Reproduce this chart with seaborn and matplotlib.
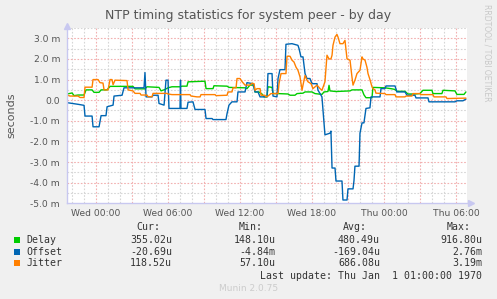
import numpy as np
import pandas as pd
import matplotlib
matplotlib.use("Agg")
import matplotlib.pyplot as plt
from matplotlib.patches import Rectangle
import seaborn as sns

# hours relative to Wed 00:00, values in milliseconds
delay_t = [-2.42, -2.0, -1.83, -1.5, -1.0, -0.83, -0.33, -0.17, 0.25, 0.42, 0.92, 1.17, 3.08, 3.25,
           4.08, 4.25, 5.25, 5.42, 5.75, 6.0, 6.33, 7.0, 7.17, 7.58, 7.67, 9.08, 9.17, 9.75, 9.83,
           10.92, 11.08, 12.42, 12.58, 12.83, 13.17, 13.25, 13.58, 13.83, 14.0, 14.25, 14.33, 14.67,
           14.75, 15.17, 16.0, 16.17, 16.58, 16.75, 17.25, 17.42, 18.0, 18.25, 18.83, 19.0, 19.33,
           19.42, 19.5, 20.0, 21.17, 21.33, 22.17, 22.33, 22.5, 23.0, 23.08, 24.08, 24.67, 24.92,
           25.08, 25.75, 26.0, 26.58, 27.0, 27.25, 28.0, 28.08, 28.83, 28.92, 29.92, 30.08, 30.67, 30.83]
delay_v = [0.3, 0.35, 0.22, 0.25, 0.25, 0.5, 0.5, 0.38, 0.38, 0.5, 0.5, 0.67, 0.67, 0.55,
           0.55, 0.65, 0.62, 0.45, 0.52, 0.6, 0.65, 0.65, 0.68, 0.68, 0.89, 0.92, 0.56, 0.56, 0.7,
           0.68, 0.62, 0.6, 0.56, 0.73, 0.73, 0.4, 0.4, 0.3, 0.16, 0.16, 0.65, 0.62,
           0.32, 0.32, 0.3, 0.24, 0.24, 0.32, 0.34, 0.4, 0.4, 0.32, 0.28, 0.4, 0.42,
           0.72, 0.45, 0.42, 0.45, 0.5, 0.5, 0.26, 0.12, 0.12, 0.62, 0.6, 0.55, 0.52,
           0.43, 0.43, 0.3, 0.3, 0.32, 0.48, 0.48, 0.32, 0.32, 0.48, 0.45, 0.28, 0.28, 0.4]

offset_t = [-2.42, -1.5, -1.0, -0.92, -0.33, -0.25, 0.25, 0.42, 0.83, 0.92, 1.42, 1.5, 2.17, 2.33,
            4.0, 4.08, 4.17, 4.67, 4.75, 5.17, 5.25, 5.67, 5.83, 6.0, 6.08, 7.0, 7.04, 7.08, 7.58,
            7.67, 8.08, 8.25, 9.08, 9.17, 9.67, 9.75, 10.83, 10.92, 11.08, 11.33, 11.75, 11.83,
            12.42, 12.58, 13.08, 13.25, 13.5, 13.67, 14.25, 14.33, 14.67, 14.75, 15.08, 15.17,
            15.33, 15.75, 15.83, 16.33, 16.83, 16.92, 17.08, 17.25, 17.42, 17.58, 17.83, 18.0,
            18.42, 18.5, 18.67, 18.83, 19.08, 19.5, 19.58, 19.67, 19.92, 20.0, 20.5, 20.58, 20.92,
            21.0, 21.42, 21.5, 21.58, 21.92, 22.0, 22.17, 22.33, 22.5, 22.83, 22.92, 23.67, 23.75,
            24.08, 24.17, 24.92, 25.08, 25.75, 25.92, 26.58, 26.67, 27.67, 27.75, 29.92, 30.08,
            30.58, 30.83]
offset_v = [-0.12, -0.2, -0.25, -0.77, -0.77, -1.29, -1.29, -0.75, -0.75, -0.32, -0.24, 0.2, 0.24, 0.6,
            0.6, 1.34, 0.16, 0.16, 0.24, 0.24, -0.16, -0.24, 0.97, 0.97, -0.4, -0.4, 0.97, -0.4, -0.4,
            -0.1, -0.08, -0.45, -0.45, -0.89, -0.89, -0.94, -0.94, -0.65, -0.24, -0.08, -0.08, 0.4,
            0.4, 0.85, 0.8, 0.4, 0.4, 0.16, 0.16, 1.29, 1.29, 0.2, 0.16, 1.05,
            1.48, 1.48, 2.71, 2.74, 2.66, 2.5, 2.1, 2.1, 1.29, 1.05, 1.05, 0.8,
            0.8, 0.48, 0.32, 0.16, -1.68, -1.6, -1.5, -3.29, -3.29, -3.92, -3.92, -4.84, -4.84,
            -4.3, -4.3, -3.9, -3.2, -3.2, -1.6, -1.1, -1.1, -0.4, -0.37, 0.16, 0.16, 0.56,
            0.56, 0.69, 0.69, 0.4, 0.4, 0.24, 0.24, 0.11, 0.11, -0.08, -0.08, -0.03,
            -0.03, 0.05]

jitter_t = [-2.42, -2.17, -1.5, -1.33, -1.0, -0.92, -0.33, -0.25, 0.17, 0.33, 0.58, 0.67, 1.0, 1.17,
            1.33, 1.42, 1.58, 2.58, 2.67, 3.08, 3.25, 3.67, 3.75, 4.25, 4.33, 4.67, 4.75, 5.92, 6.0,
            6.33, 7.83, 7.92, 8.42, 8.67, 8.75, 9.92, 10.0, 10.92, 11.0, 11.33, 11.42, 11.67, 11.75,
            12.0, 12.17, 12.42, 12.83, 13.0, 13.17, 13.25, 13.42, 13.67, 13.75, 14.08, 14.17, 14.33,
            14.58, 15.17, 15.25, 15.42, 15.83, 15.92, 16.17, 16.33, 16.5, 16.67, 16.83, 17.0, 17.17,
            17.25, 17.42, 17.58, 17.67, 17.92, 18.08, 18.42, 18.67, 18.83, 19.08, 19.25, 19.42, 19.58,
            19.67, 19.75, 19.92, 20.08, 20.17, 20.33, 20.58, 20.75, 20.92, 21.17, 21.33, 21.42, 21.58,
            21.75, 22.0, 22.17, 22.25, 22.42, 22.58, 22.67, 22.83, 23.0, 23.08, 23.25, 23.33, 24.08,
            24.17, 24.92, 25.0, 25.75, 25.83, 26.33, 26.42, 27.0, 27.08, 28.08, 28.17, 29.17, 29.25,
            30.83]
jitter_v = [0.25, 0.2, 0.2, 0.13, 0.13, 0.63, 0.63, 1.0, 1.0, 0.85, 0.83, 0.5, 0.5, 1.0,
            1.0, 0.75, 0.97, 0.95, 0.5, 0.45, 0.33, 0.33, 0.25, 0.25, 0.17, 0.17, 0.33, 0.33, 0.3,
            0.27, 0.27, 0.2, 0.16, 0.16, 0.27, 0.27, 0.22, 0.24, 0.4, 0.4, 0.6, 0.6, 1.05,
            1.05, 0.9, 0.73, 0.73, 0.82, 0.8, 0.48, 0.56, 0.56, 0.24, 0.24, 0.16, 0.2,
            0.32, 0.32, 0.8, 1.29, 1.29, 2.13, 2.13, 1.94, 1.85, 1.6, 1.45, 1.13, 0.48,
            0.73, 1.2, 0.97, 0.89, 0.8, 0.56, 0.73, 0.56, 0.48, 0.89, 2.18, 2.0, 2.0,
            2.18, 2.66, 3.06, 3.19, 3.06, 2.74, 2.74, 2.9, 2.0, 1.94, 1.13, 0.73, 0.97,
            1.29, 1.45, 2.1, 2.0, 1.94, 1.6, 1.29, 1.0, 0.65, 0.56, 0.5, 0.34, 0.32,
            0.27, 0.27, 0.16, 0.16, 0.2, 0.2, 0.32, 0.32, 0.27, 0.27, 0.16, 0.16, 0.08,
            0.1]

series_names = ["Delay", "Offset", "Jitter"]
series_colors = ["#00CC00", "#0066B3", "#FF8000"]
x_ticks = [0, 6, 12, 18, 24, 30]
x_labels = ["Wed 00:00", "Wed 06:00", "Wed 12:00", "Wed 18:00", "Thu 00:00", "Thu 06:00"]
y_ticks = [-5, -4, -3, -2, -1, 0, 1, 2, 3]
y_labels = ["-5.0 m", "-4.0 m", "-3.0 m", "-2.0 m", "-1.0 m", "0.0", "1.0 m", "2.0 m", "3.0 m"]
stat_cur = ["355.02u", "-20.69u", "118.52u"]
stat_min = ["148.10u", "-4.84m", "57.10u"]
stat_avg = ["480.49u", "-169.04u", "686.08u"]
stat_max = ["916.80u", "2.76m", "3.19m"]

df = pd.concat([
    pd.DataFrame({"hour": delay_t, "value": delay_v, "series": "Delay"}),
    pd.DataFrame({"hour": offset_t, "value": offset_v, "series": "Offset"}),
    pd.DataFrame({"hour": jitter_t, "value": jitter_v, "series": "Jitter"}),
], ignore_index=True)

sns.set_theme(style="white")
plt.rcParams["font.family"] = ["DejaVu Sans"]

W, H = 497, 299
fig = plt.figure(figsize=(W / 100, H / 100), dpi=100, facecolor="#f0f0f0")
ax = fig.add_axes([67 / W, 1 - 203.3 / H, 400 / W, 175.3 / H])
ax.set_facecolor("white")

sns.lineplot(data=df, x="hour", y="value", hue="series", hue_order=series_names,
             palette=series_colors, estimator=None, sort=False, legend=False,
             linewidth=1.0, ax=ax)

ax.set_xlim(-2.42, 30.92)
ax.set_ylim(-5, 3.5)
ax.set_xticks(x_ticks)
ax.set_xticklabels(x_labels)
ax.set_xticks(np.arange(-2, 31, 3), minor=True)
ax.set_yticks(y_ticks)
ax.set_yticklabels(y_labels)
ax.set_xlabel("")
ax.set_ylabel("seconds", fontsize=8, color="#555555", labelpad=10)

# grid: grey every hour / 0.5m, red every 3h / 1m
for h in np.arange(-2, 31, 1):
    c = "#f2b0b0" if h % 3 == 0 else "#d6d6d6"
    ax.axvline(h, color=c, lw=0.8, ls=(0, (1.5, 1.5)), zorder=0)
for v in np.arange(-4.5, 3.6, 0.5):
    c = "#f2b0b0" if v == int(v) else "#d6d6d6"
    ax.axhline(v, color=c, lw=0.8, ls=(0, (1.5, 1.5)), zorder=0)

ax.tick_params(axis="both", which="both", length=2, width=0.8, color="#f08080",
               labelsize=6.6, labelcolor="#555555", pad=3)
ax.tick_params(axis="x", which="major", length=0, pad=4)
for s in ["top", "right"]:
    ax.spines[s].set_visible(False)
for s in ["left", "bottom"]:
    ax.spines[s].set_color("#c8c8f0")
    ax.spines[s].set_linewidth(1.0)
ax.plot([0], [1.01], marker="^", ms=4, color="#c8c8f0", transform=ax.transAxes, clip_on=False)
ax.plot([1.01], [0], marker=">", ms=4, color="#c8c8f0", transform=ax.transAxes, clip_on=False)

def fx(x):
    return x / W

def fy(y):
    return 1 - y / H

fig.text(fx(248.5), fy(15), "NTP timing statistics for system peer - by day",
         ha="center", va="center", fontsize=9.0, color="#555555")
fig.text(fx(487), fy(53), "RRDTOOL / TOBI OETIKER", rotation=270, ha="center", va="center",
         fontsize=5.5, color="#c8c8c8")

mono = dict(family="DejaVu Sans Mono", fontsize=7.1, color="#333333", va="center")
fig.text(fx(136), fy(227.3), "Cur:", ha="left", **mono)
fig.text(fx(239), fy(227.3), "Min:", ha="left", **mono)
fig.text(fx(343), fy(227.3), "Avg:", ha="left", **mono)
fig.text(fx(447), fy(227.3), "Max:", ha="left", **mono)
row_y = [240, 251.7, 263.3]
for i, name in enumerate(series_names):
    y = row_y[i]
    fig.patches.append(Rectangle((fx(14), fy(y + 3)), 6 / W, 6 / H, transform=fig.transFigure,
                                 facecolor=series_colors[i], edgecolor="none"))
    fig.text(fx(26), fy(y), name, ha="left", **mono)
    fig.text(fx(172), fy(y), stat_cur[i], ha="right", **mono)
    fig.text(fx(275.5), fy(y), stat_min[i], ha="right", **mono)
    fig.text(fx(380), fy(y), stat_avg[i], ha="right", **mono)
    fig.text(fx(482.5), fy(y), stat_max[i], ha="right", **mono)
fig.text(fx(482.5), fy(275.7), "Last update: Thu Jan  1 01:00:00 1970", ha="right", **mono)
fig.text(fx(248.5), fy(288.3), "Munin 2.0.75", ha="center", va="center", fontsize=6.5,
         color="#cccccc")

fig.savefig("out.png", dpi=100, facecolor=fig.get_facecolor())
